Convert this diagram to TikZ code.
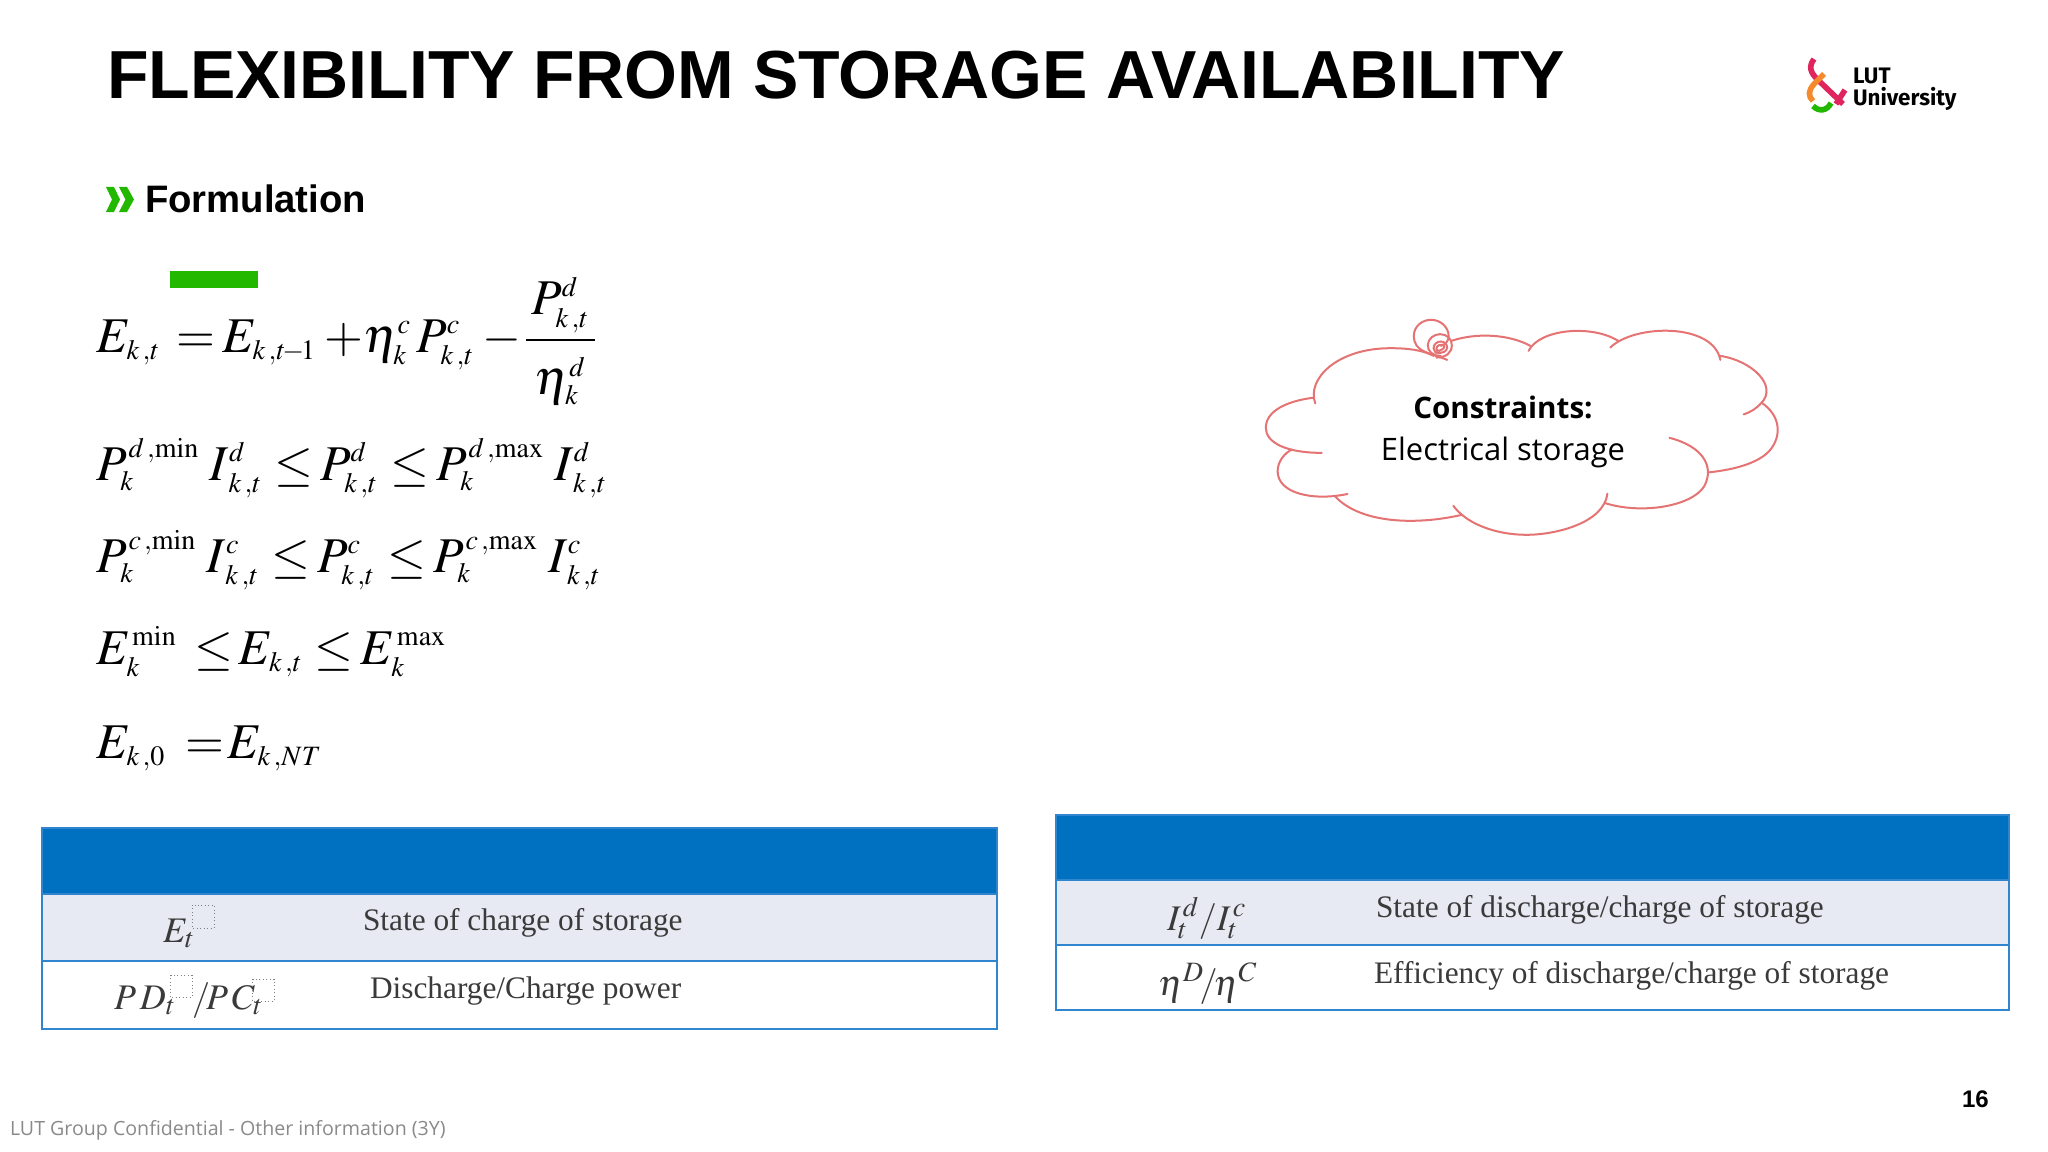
\documentclass[tikz,border=0pt]{standalone}
\usepackage{mathptmx}
\usepackage[no-math]{fontspec}
\setmainfont{Liberation Serif}
\newfontfamily\arialf{Liberation Sans}
\newfontfamily\openf{Open Sans}
\newfontfamily\firaf{Fira Sans}
\DeclareMathSizes{37.5}{37.5}{21}{15}
\DeclareMathSizes{27}{27}{21}{15}
\definecolor{lutgreen}{HTML}{22B800}
\definecolor{hdrblue}{HTML}{0070C0}
\definecolor{rowfill}{HTML}{E7EAF3}
\definecolor{tblline}{HTML}{2F86CF}
\definecolor{cloudline}{HTML}{E57373}
\definecolor{lutpink}{HTML}{E0245E}
\definecolor{lutorange}{HTML}{F58A2C}
\definecolor{tabletext}{HTML}{3A3A3A}
\definecolor{footgrey}{HTML}{8A8A8A}
\newcommand{\eqnfont}{\fontsize{37.5}{40}\selectfont\thickmuskip=3mu\relax\medmuskip=3mu\relax}
\tikzset{
  txt/.style={inner sep=0pt,outer sep=0pt,anchor=base west},
  eqn/.style={txt,font=\eqnfont},
  tbltxt/.style={txt,text=tabletext,font=\fontsize{23.5}{25}\selectfont},
  tblmath/.style={inner sep=0pt,outer sep=0pt,anchor=base west,text=tabletext,font=\fontsize{27}{29}\selectfont},
  cloudstroke/.style={draw=cloudline,line width=1.5pt,line cap=round},
  tblrow/.style={draw=tblline,line width=1.5pt},
  holder/.style={draw=gray,dotted,line width=0.6pt},
  logostroke/.style={line width=4.2pt,line cap=butt}
}
\newcommand{\kt}{k\,,t}
\newcommand{\kI}{\,k\,,t}
\newcommand{\ks}{\kern1.5pt}
\newcommand{\lee}{\kern3pt\le\kern-1pt}
\begin{document}
\begin{tikzpicture}[x=0.75pt,y=-0.75pt]
\useasboundingbox (0,0) rectangle (2048,1152);
\fill[white] (0,0) rectangle (2048,1152);
% title
\node[txt,font=\arialf\bfseries\fontsize{51}{54}\selectfont] (title) at (107,99) {FLEXIBILITY FROM STORAGE AVAILABILITY};
% logo
\draw[logostroke,lutpink] (1814,59) .. controls (1808,67) and (1811,73) .. (1817,79) -- (1843,104);
\draw[logostroke,lutpink] (1845,90) -- (1836,104);
\draw[logostroke,lutorange] (1824,74) -- (1814,84) .. controls (1808,91) and (1808,96) .. (1813,101);
\draw[logostroke,lutgreen] (1813,106) .. controls (1819,112) and (1827,111) .. (1831,103);
\node[txt,font=\firaf\bfseries\fontsize{16.8}{19}\selectfont] (lut) at (1853,84) {LUT};
\node[txt,font=\firaf\bfseries\fontsize{16.8}{19}\selectfont] (univ) at (1853,106) {University};
% heading
\fill[lutgreen] (106,187) -- (114,187) -- (120,199.5) -- (114,212) -- (106,212) -- (112,199.5) -- cycle;
\fill[lutgreen] (119,187) -- (127,187) -- (134,199.5) -- (127,212) -- (119,212) -- (125.5,199.5) -- cycle;
\node[txt,font=\arialf\bfseries\fontsize{28.7}{30}\selectfont] (form) at (145,212) {Formulation};
\fill[lutgreen] (170,271) rectangle (258,288);
% equations
\node[eqn] (eq1) at (96,352) {$E_{\kt}\kern6pt=\kern-1pt E_{k\,,t\!-\!1}+\kern-6pt\eta_k^{c}\,P_{\kt}^{c}-\kern-4pt{\displaystyle\frac{\,P_{\kt}^{d}\,}{\rule{0pt}{36pt}\eta_k^{d}}}$};
\node[eqn] (eq2) at (96,480) {$P_k^{\ks d\,,\mathrm{min}\kern4pt}\,I_{\kI}^{d}\lee P_{\kt}^{d}\lee P_k^{\ks d\,,\mathrm{max}\kern4pt}\,I_{\kI}^{d}$};
\node[eqn] (eq3) at (96,572) {$P_k^{\ks c\,,\mathrm{min}\kern4pt}\,I_{\kI}^{c}\lee P_{\kt}^{c}\lee P_k^{\ks c\,,\mathrm{max}\kern4pt}\,I_{\kI}^{c}$};
\node[eqn] (eq4) at (96,664) {$E_k^{\ks\mathrm{min}}\kern7pt\le\kern-2pt E_{\kt}\kern3pt\le\kern-1pt E_k^{\ks\mathrm{max}}$};
\node[eqn] (eq5) at (96,758) {$E_{k\,,0}\kern9pt=\kern-4pt E_{k\,,NT}$};
% cloud
\begin{scope}[shift={(1240,289)},x=0.75pt/2.79,y=-0.75pt/2.99]
\draw[cloudstroke] (210,342) .. controls (185,270) and (270,177) .. (420,177) .. controls (470,177) and (510,183) .. (540,200);
\draw[cloudstroke] (590,155) .. controls (660,130) and (750,135) .. (810,170);
\draw[cloudstroke] (805,185) .. controls (835,120) and (980,105) .. (1055,155);
\draw[cloudstroke] (1033,175) .. controls (1100,105) and (1320,100) .. (1340,212);
\draw[cloudstroke] (1340,200) .. controls (1430,215) and (1500,290) .. (1455,340) .. controls (1440,358) and (1425,368) .. (1405,375);
\draw[cloudstroke] (1455,340) .. controls (1510,380) and (1510,440) .. (1480,480) .. controls (1450,520) and (1380,540) .. (1310,548);
\draw[cloudstroke] (1198,445) .. controls (1290,470) and (1325,530) .. (1295,590) .. controls (1260,650) and (1120,675) .. (1018,640);
\draw[cloudstroke] (1025,612) .. controls (1015,700) and (880,735) .. (800,735) .. controls (710,735) and (630,700) .. (595,648);
\draw[cloudstroke] (620,675) .. controls (500,705) and (340,705) .. (265,620);
\draw[cloudstroke] (300,613) .. controls (200,635) and (105,610) .. (105,545) .. controls (105,515) and (125,490) .. (145,480);
\draw[cloudstroke] (228,490) .. controls (130,490) and (72,460) .. (72,415) .. controls (72,365) and (130,335) .. (205,325);
\draw[cloudstroke] (578,212) .. controls (530,190) and (485,190) .. (485,140) .. controls (485,110) and (510,92) .. (533,92) .. controls (560,92) and (582,115) .. (582,140) .. controls (582,155) and (575,165) .. (560,170);
\draw[cloudstroke] (560,200) .. controls (535,200) and (524,185) .. (524,168) .. controls (524,150) and (540,135) .. (558,135) .. controls (578,135) and (591,150) .. (591,168) .. controls (591,190) and (575,205) .. (548,205);
\draw[cloudstroke] (558,192) .. controls (545,192) and (540,185) .. (540,177) .. controls (540,165) and (550,157) .. (560,157) .. controls (570,157) and (578,165) .. (578,175) .. controls (578,185) and (565,195) .. (545,190);
\draw[cloudstroke] (550,185) .. controls (560,185) and (570,178) .. (570,172) .. controls (570,165) and (555,165) .. (550,172) .. controls (545,180) and (550,185) .. (558,185);
\end{scope}
\node[inner sep=0pt,anchor=base,font=\openf\bfseries\fontsize{22.2}{24}\selectfont] (c1) at (1503,418) {Constraints:};
\node[inner sep=0pt,anchor=base,font=\openf\fontsize{23.2}{25}\selectfont] (c2) at (1503,460) {Electrical storage};
% left table
\fill[rowfill] (42,894) rectangle (997,961);
\fill[hdrblue] (42,828) rectangle (997,894);
\draw[tblrow] (42,828) rectangle (997,1029);
\draw[tblrow] (42,894) -- (997,894);
\draw[tblrow] (42,961) -- (997,961);
\node[tblmath] (e1) at (163,942) {$E_t$};
\draw[holder] (192,905) rectangle (214,928);
\node[tblmath] (p1) at (114,1009) {$P\,D_t$};
\node[tblmath] (p2) at (192,1009) {$/\!P\,C_t$};
\draw[holder] (170,975) rectangle (192,997);
\draw[holder] (252,979) rectangle (274,1001);
\node[tbltxt] (s1) at (363,930) {State of charge of storage};
\node[tbltxt] (s2) at (370,998) {Discharge/Charge power};
% right table
\fill[rowfill] (1056,880) rectangle (2009,945);
\fill[hdrblue] (1056,815) rectangle (2009,880);
\draw[tblrow] (1056,815) rectangle (2009,1010);
\draw[tblrow] (1056,880) -- (2009,880);
\draw[tblrow] (1056,945) -- (2009,945);
\node[tblmath] (i1) at (1167,930) {$I_t^{\ks d}/I_t^{\ks c}$};
\node[tblmath] (n1) at (1158,995) {$\eta^{D}\!/\!\eta^{C}$};
\node[tbltxt] (s3) at (1376,917) {State of discharge/charge of storage};
\node[tbltxt] (s4) at (1374,983) {Efficiency of discharge/charge of storage};
% footer
\node[txt,text=footgrey,font=\openf\fontsize{14.7}{16}\selectfont] (foot) at (10,1135) {LUT Group Confidential - Other information (3Y)};
\node[txt,font=\arialf\bfseries\fontsize{18}{19}\selectfont] (pg) at (1962,1107) {16};
\end{tikzpicture}
\end{document}
